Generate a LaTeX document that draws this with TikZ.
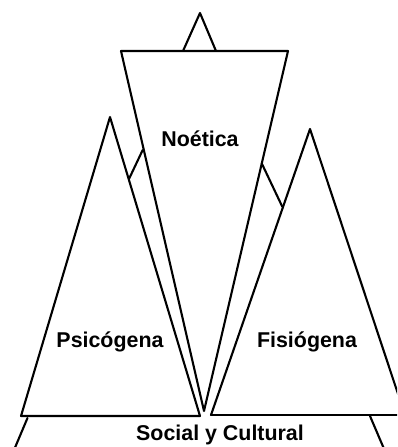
\documentclass[tikz,border=0pt]{standalone}
\usepackage{fontspec}
\setmainfont{Liberation Sans}
\begin{document}
\begin{tikzpicture}[x=1pt,y=-1pt,line join=round,line cap=round,
  edge/.style={draw=black,line width=2.1pt},
  lbl/.style={font=\bfseries\fontsize{21.4}{24}\selectfont,anchor=base,inner sep=0pt,text=black}]
\useasboundingbox (0,0) rectangle (397,447);
\clip (0,0) rectangle (397,447);
% top small triangle
\coordinate (ta) at (200,13);
\coordinate (tl) at (183,51);
\coordinate (tr) at (216,51);
% Noetica inverted triangle
\coordinate (nl) at (121,51);
\coordinate (nr) at (288,51);
\coordinate (nb) at (204,411);
% Psicogena
\coordinate (pa) at (110,117);
\coordinate (pl) at (21,416);
\coordinate (pr) at (200,416);
% Fisiogena
\coordinate (fa) at (310,129);
\coordinate (fl) at (211,415);
\coordinate (fr) at (405,415);
% fold segments
\coordinate (ln1) at (142.7,150);
\coordinate (ln2) at (129.3,178.3);
\coordinate (rn1) at (261.7,163.3);
\coordinate (rn2) at (282.3,206.7);
% social lines
\coordinate (sl1) at (27.5,418);
\coordinate (sl2) at (14,450);
\coordinate (sr1) at (370,416);
\coordinate (sr2) at (384.5,450);

\draw[edge] (tl) -- (ta) -- (tr);
\draw[edge] (nl) -- (nr) -- (nb) -- cycle;
\draw[edge] (pa) -- (pl) -- (pr) -- cycle;
\draw[edge] (fl) -- (fa) -- (fr);
\draw[edge] (fl) -- (fr);
\draw[edge] (ln1) -- (ln2);
\draw[edge] (rn1) -- (rn2);
\draw[edge] (sl1) -- (sl2);
\draw[edge] (sr1) -- (sr2);

\node[lbl] (noe) at (200,146) {Noética};
\node[lbl] (psi) at (110,347.5) {Psicógena};
\node[lbl] (fis) at (307,347.5) {Fisiógena};
\node[lbl] (soc) at (220,440) {Social y Cultural};
\end{tikzpicture}
\end{document}
